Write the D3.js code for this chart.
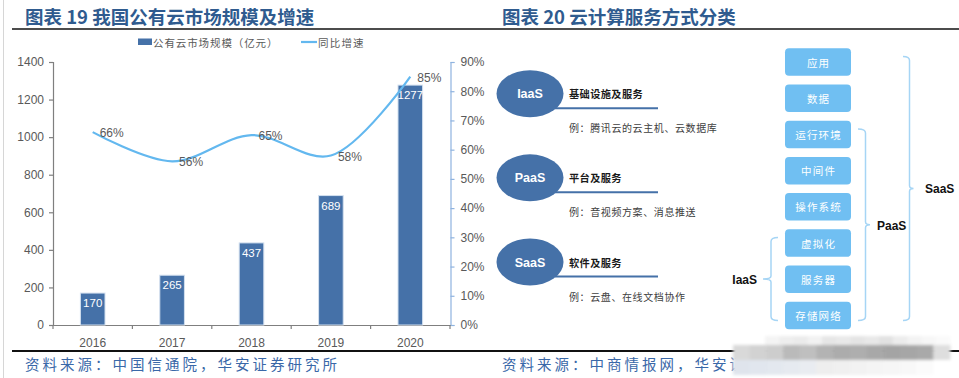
<!DOCTYPE html>
<html><head><meta charset="utf-8">
<script src="https://cdn.jsdelivr.net/npm/d3@7"></script>
<style>html,body{margin:0;padding:0;background:#fff;}svg{display:block;}</style>
</head><body>
<svg id="c" width="959" height="378"></svg>
<script>
// ---------- data ----------
const years = ["2016", "2017", "2018", "2019", "2020"];
const marketSize = [170, 265, 437, 689, 1277];
const growth = [66, 56, 65, 58, 85];
const leftTicks = [0, 200, 400, 600, 800, 1000, 1200, 1400];
const rightTicks = [0, 10, 20, 30, 40, 50, 60, 70, 80, 90];
const legendLabels = ["公有云市场规模（亿元）", "同比增速"];
const title1 = "图表 19 我国公有云市场规模及增速";
const title2 = "图表 20 云计算服务方式分类";
const source1 = "资料来源：中国信通院，华安证券研究所";
const source2 = "资料来源：中商情报网，华安证券研究所";
const serviceNames = ["IaaS", "PaaS", "SaaS"];
const serviceDescs = ["基础设施及服务", "平台及服务", "软件及服务"];
const serviceExamples = ["例：腾讯云的云主机、云数据库", "例：音视频方案、消息推送", "例：云盘、在线文档协作"];
const layers = ["应用", "数据", "运行环境", "中间件", "操作系统", "虚拟化", "服务器", "存储网络"];
const bracketNames = ["SaaS", "PaaS", "IaaS"];
const bracketStart = ["应用", "运行环境", "虚拟化"];
const bracketEnd = ["存储网络", "存储网络", "存储网络"];

// ---------- styles ----------
const LAT = "'Liberation Sans', Arial, sans-serif";
const CJK = "'Noto Sans CJK SC', sans-serif";
const barColor = "#4571a8";
const lineColor = "#63b8ef";
const boxColor = "#70bff2";
const bracketColor = "#a6d5f5";
const titleColor = "#2f5b8f";
const axisText = "#595959";

const svg = d3.select("#c");

// page frame line at left
svg.append("line").attr("x1", 3.5).attr("x2", 3.5).attr("y1", 0).attr("y2", 378)
  .attr("stroke", "#d6d6d6").attr("stroke-width", 1);

// titles
svg.append("text").attr("x", 25).attr("y", 16).attr("dominant-baseline", "central")
  .attr("font-family", CJK).attr("font-weight", "bold").attr("font-size", 18.5)
  .attr("fill", titleColor).text(title1);
svg.append("text").attr("x", 502).attr("y", 16).attr("dominant-baseline", "central")
  .attr("font-family", CJK).attr("font-weight", "bold").attr("font-size", 18.5)
  .attr("fill", titleColor).text(title2);
// rules
svg.append("line").attr("x1", 12).attr("x2", 959).attr("y1", 29).attr("y2", 29)
  .attr("stroke", "#111").attr("stroke-width", 1.6);
svg.append("line").attr("x1", 12).attr("x2", 959).attr("y1", 351).attr("y2", 351)
  .attr("stroke", "#111").attr("stroke-width", 2);

// sources
svg.append("text").attr("x", 25).attr("y", 363).attr("dominant-baseline", "central")
  .attr("font-family", CJK).attr("font-size", 14.5).attr("letter-spacing", 3)
  .attr("fill", "#3a68a8").text(source1);
svg.append("text").attr("x", 502).attr("y", 363).attr("dominant-baseline", "central")
  .attr("font-family", CJK).attr("font-size", 14.5).attr("letter-spacing", 3)
  .attr("fill", "#3a68a8").text(source2);

// ---------- left chart ----------
const x = d3.scaleBand().domain(years).range([53, 450]).paddingInner(0.69).paddingOuter(0.345);
const yL = d3.scaleLinear().domain([0, 1400]).range([325, 62]);
const yR = d3.scaleLinear().domain([0, 90]).range([325, 62]);
const cx = d => x(d) + x.bandwidth() / 2;

// left axis
const gL = svg.append("g").attr("transform", "translate(53,0)")
  .call(d3.axisLeft(yL).tickValues(leftTicks).tickSize(4).tickPadding(5).tickFormat(d3.format("d")));
gL.select(".domain").attr("stroke", "#7f7f7f").attr("stroke-width", 1.2);
gL.selectAll(".tick line").attr("stroke", "#7f7f7f").attr("stroke-width", 1.2);
gL.selectAll(".tick text").attr("font-family", LAT).attr("font-size", 12).attr("fill", axisText);

// right axis
const gR = svg.append("g").attr("transform", "translate(450.5,0)")
  .call(d3.axisRight(yR).tickValues(rightTicks).tickSize(4).tickPadding(6).tickFormat(d => d + "%"));
gR.select(".domain").attr("stroke", "#8fb3df").attr("stroke-width", 1.2);
gR.selectAll(".tick line").attr("stroke", "#8fb3df").attr("stroke-width", 1.2);
gR.selectAll(".tick text").attr("font-family", LAT).attr("font-size", 12).attr("fill", axisText);

// x axis
const gX = svg.append("g").attr("transform", "translate(0,325)")
  .call(d3.axisBottom(x).tickSize(0).tickPadding(13));
gX.select(".domain").attr("stroke", "#7f7f7f").attr("stroke-width", 1.2);
gX.selectAll(".tick text").attr("font-family", LAT).attr("font-size", 12).attr("fill", axisText);
const bounds = d3.range(years.length + 1).map(i => x.range()[0] + i * x.step());
gX.selectAll(".bnd").data(bounds).join("line").attr("class", "bnd")
  .attr("x1", d => d).attr("x2", d => d).attr("y1", 0).attr("y2", 4)
  .attr("stroke", "#7f7f7f").attr("stroke-width", 1.2);

// bars
svg.append("g").selectAll("rect").data(years).join("rect")
  .attr("x", d => x(d)).attr("width", x.bandwidth())
  .attr("y", (d, i) => yL(marketSize[i])).attr("height", (d, i) => yL(0) - yL(marketSize[i]))
  .attr("fill", barColor).attr("stroke", "#d3e0ef").attr("stroke-width", 1);
svg.append("g").selectAll("text").data(years).join("text")
  .attr("x", d => cx(d)).attr("y", (d, i) => yL(marketSize[i]) + 10)
  .attr("text-anchor", "middle").attr("dominant-baseline", "central")
  .attr("font-family", LAT).attr("font-size", 11.5).attr("fill", "#fff")
  .text((d, i) => marketSize[i]);

// growth line
const line = d3.line().x(d => cx(d.k)).y(d => yR(d.v)).curve(d3.curveCatmullRom.alpha(0.5));
const pts = years.map((k, i) => ({k, v: growth[i]}));
svg.append("path").datum(pts).attr("d", line).attr("fill", "none")
  .attr("stroke", lineColor).attr("stroke-width", 2.2);
svg.append("g").selectAll("text").data(pts).join("text")
  .attr("x", d => cx(d.k) + 7).attr("y", d => yR(d.v) + 1)
  .attr("dominant-baseline", "central").attr("font-family", LAT).attr("font-size", 12)
  .attr("fill", axisText).text(d => d.v + "%");

// legend
const lg = svg.append("g");
lg.append("rect").attr("x", 138).attr("y", 38.5).attr("width", 14).attr("height", 6.5).attr("fill", barColor);
lg.append("text").attr("x", 153).attr("y", 42).attr("dominant-baseline", "central")
  .attr("font-family", CJK).attr("font-size", 10.5).attr("letter-spacing", 0.9)
  .attr("fill", axisText).text(legendLabels[0]);
lg.append("line").attr("x1", 301).attr("x2", 317).attr("y1", 42).attr("y2", 42)
  .attr("stroke", lineColor).attr("stroke-width", 2.2);
lg.append("text").attr("x", 318).attr("y", 42).attr("dominant-baseline", "central")
  .attr("font-family", CJK).attr("font-size", 10.5).attr("letter-spacing", 1.2)
  .attr("fill", axisText).text(legendLabels[1]);

// ---------- right diagram ----------
const sy = d3.scalePoint().domain(serviceNames).range([93.7, 262]);
const sg = svg.append("g").selectAll("g").data(serviceNames).join("g")
  .attr("transform", d => `translate(0,${sy(d)})`);
sg.append("line").attr("x1", 555).attr("x2", 658).attr("y1", 14.5).attr("y2", 14.5)
  .attr("stroke", barColor).attr("stroke-width", 2);
sg.append("ellipse").attr("cx", 530).attr("cy", 0).attr("rx", 33.5).attr("ry", 23.5).attr("fill", barColor);
sg.append("text").attr("x", 530).attr("y", 0.5).attr("text-anchor", "middle").attr("dominant-baseline", "central")
  .attr("font-family", LAT).attr("font-weight", "bold").attr("font-size", 12.5).attr("fill", "#fff").text(d => d);
sg.append("text").attr("x", 569).attr("y", 0).attr("dominant-baseline", "central")
  .attr("font-family", CJK).attr("font-weight", "bold").attr("font-size", 10.2).attr("letter-spacing", 0.4)
  .attr("fill", "#1a1a1a").text((d, i) => serviceDescs[i]);
sg.append("text").attr("x", 569).attr("y", 34).attr("dominant-baseline", "central")
  .attr("font-family", CJK).attr("font-size", 10).attr("letter-spacing", 0.6)
  .attr("fill", "#404040").text((d, i) => serviceExamples[i]);

// layer boxes
const by = d3.scaleBand().domain(layers).range([48.3, 329.2]).paddingInner(0.24).paddingOuter(0);
const bg = svg.append("g").selectAll("g").data(layers).join("g")
  .attr("transform", d => `translate(785,${by(d)})`);
bg.append("rect").attr("width", 66).attr("height", by.bandwidth()).attr("rx", 4).attr("fill", boxColor);
bg.append("text").attr("x", 33.6).attr("y", by.bandwidth() / 2).attr("text-anchor", "middle")
  .attr("dominant-baseline", "central").attr("font-family", CJK).attr("font-size", 10.5)
  .attr("letter-spacing", 1.2).attr("fill", "#fff").text(d => d);

// brackets
const bx = {SaaS: [903, 909.5, 913.5, 925, "start"], PaaS: [858, 865.5, 870, 877, "start"], IaaS: [778, 771, 763, 757, "end"]};
bracketNames.forEach((nm, i) => {
  const top = by(bracketStart[i]) + by.bandwidth() * 0.3;
  const bot = by(bracketEnd[i]) + by.bandwidth() * 0.68;
  const mid = (top + bot) / 2;
  const [xa, xb, xc, xl, anc] = bx[nm];
  const s = Math.sign(xb - xa);
  const p = d3.path();
  p.moveTo(xa, top);
  p.quadraticCurveTo(xb, top, xb, top + 4);
  p.lineTo(xb, mid - 3);
  p.quadraticCurveTo(xb, mid, xc, mid);
  p.quadraticCurveTo(xb, mid, xb, mid + 3);
  p.lineTo(xb, bot - 4);
  p.quadraticCurveTo(xb, bot, xa, bot);
  svg.append("path").attr("d", p.toString()).attr("fill", "none")
    .attr("stroke", bracketColor).attr("stroke-width", 1.5);
  svg.append("text").attr("x", xl).attr("y", mid + 1).attr("text-anchor", anc)
    .attr("dominant-baseline", "central").attr("font-family", LAT).attr("font-weight", "bold")
    .attr("font-size", 12).attr("fill", "#111").text(nm);
});

// mosaic watermark (bottom right)
const defs = svg.append("defs");
defs.append("filter").attr("id", "blur").append("feGaussianBlur").attr("stdDeviation", 1.5);
const wm = svg.append("g").attr("filter", "url(#blur)");
const row1 = ["#f4f4f4", "#eeeeee", "#ebebeb", "#f2f2f2", "#e6e6e6", "#e9e9e9", "#e4e4e4", "#e8e8e8", "#e2e2e2", "#ececec", "#f3f3f3", "#f7f7f7", "#fafafa"];
const row2 = ["#d9d9d9", "#d2d2d2", "#cdcdcd", "#bababa", "#bfbfbf", "#b3b3b3", "#acacac", "#aeaeae", "#a8a8a8", "#a4a4a4", "#a6a6a6", "#a9a9a9", "#dedede"];
const row3 = ["#dfe4ec", "#e1e6ee", "#e3e8ef", "#e6eaf0", "#e9ecf1", "#eeeeee", "#f0f0f0", "#f2f2f2", "#f4f4f4", "#f6f6f6", "#f8f8f8", "#fbfbfb", "#ffffff"];
[[row1, 336, 10, 765], [row2, 345, 15, 733], [row3, 360, 15, 733]].forEach(([row, yy, h, x0]) => {
  const w = (950 - x0) / row.length;
  row.forEach((c, j) => wm.append("rect").attr("x", x0 + j * w).attr("y", yy).attr("width", w + 0.5)
    .attr("height", h).attr("fill", c));
});
</script>
</body></html>
